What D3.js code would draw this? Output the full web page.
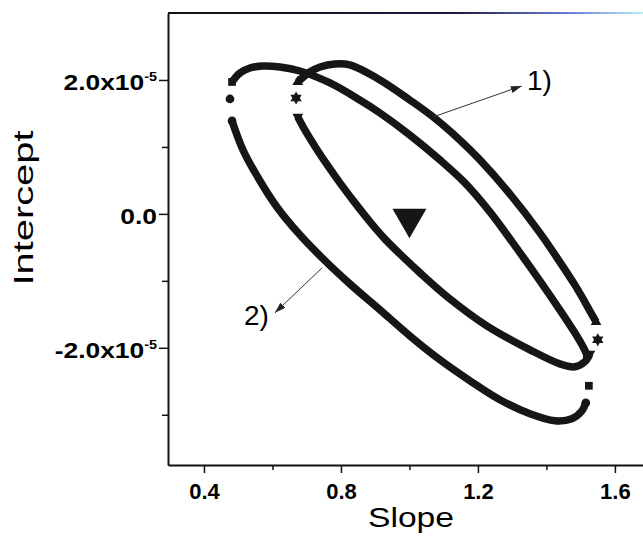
<!DOCTYPE html>
<html>
<head>
<meta charset="utf-8">
<script src="https://cdn.jsdelivr.net/npm/d3@7"></script>
<style>
body { margin: 0; background: #fff; }
svg { display: block; font-family: "Liberation Sans", Arial, sans-serif; }
</style>
</head>
<body>
<div id="chart"></div>
<script>
// [slope, intercept] pairs, intercept in units of 1e-5
var ellipse1Upper = [[0.674,1.970],[0.709,2.119],[0.739,2.194],[0.782,2.239],[0.826,2.224],[0.914,2.000],[1.001,1.701],[1.069,1.448],[1.147,1.104],[1.206,0.806],[1.293,0.299],[1.381,-0.284],[1.439,-0.716],[1.483,-1.060],[1.512,-1.313],[1.530,-1.478],[1.545,-1.612]];
var ellipse1Lower = [[0.674,1.448],[0.698,1.224],[0.727,0.985],[0.762,0.716],[0.797,0.463],[0.841,0.164],[0.885,-0.119],[0.928,-0.373],[0.972,-0.597],[1.031,-0.881],[1.118,-1.269],[1.226,-1.672],[1.352,-2.030],[1.439,-2.239],[1.483,-2.284],[1.512,-2.209],[1.527,-2.090]];
var ellipse1Ends = [[0.669,1.731],[1.550,-1.881]];

var ellipse2Upper = [[0.482,1.970],[0.505,2.104],[0.534,2.179],[0.572,2.209],[0.622,2.194],[0.680,2.134],[0.768,1.955],[0.855,1.701],[0.914,1.507],[1.001,1.179],[1.089,0.806],[1.162,0.463],[1.235,0.030],[1.302,-0.433],[1.381,-1.000],[1.439,-1.433],[1.483,-1.776],[1.507,-1.985],[1.518,-2.104]];
var ellipse2Lower = [[0.482,1.388],[0.514,0.955],[0.555,0.567],[0.613,0.104],[0.680,-0.313],[0.745,-0.657],[0.826,-1.045],[0.914,-1.433],[1.001,-1.821],[1.089,-2.179],[1.177,-2.493],[1.264,-2.776],[1.352,-2.985],[1.425,-3.090],[1.474,-3.060],[1.504,-2.940],[1.515,-2.821]];
var ellipse2Ends = [[0.476,1.716],[1.524,-2.567]];

var centerPoint = [1.0, -0.07];

var xMajor = [0.4, 0.8, 1.2, 1.6];
var xMinor = [0.6, 1.0, 1.4];
var yMajor = [-2, 0, 2];
var yMinor = [-3, -1, 1];

var arrow1 = [[1.069,1.448],[1.328,1.910]];
var arrow2 = [[0.745,-0.806],[0.607,-1.478]];
var label1 = [1.343, 1.851];
var label2 = [0.517, -1.657];

var width = 643, height = 538;
var ink = "#161616";

var svg = d3.select("#chart").append("svg")
	.attr("width", width)
	.attr("height", height);

var x = d3.scaleLinear().domain([0.295, 1.72]).range([168, 656]);
var y = d3.scaleLinear().domain([-3.75, 3.0]).range([465, 13]);

var defs = svg.append("defs");
defs.append("marker")
	.attr("id", "head")
	.attr("markerUnits", "userSpaceOnUse")
	.attr("markerWidth", 12).attr("markerHeight", 8)
	.attr("refX", 11).attr("refY", 3.5)
	.attr("orient", "auto")
	.append("path").attr("d", "M0,0L11,3.5L0,7z").attr("fill", "#222");

var grad = defs.append("linearGradient").attr("id", "topline")
	.attr("gradientUnits", "userSpaceOnUse")
	.attr("x1", 168).attr("x2", 643).attr("y1", 0).attr("y2", 0);
grad.append("stop").attr("offset", "0%").attr("stop-color", "#111");
grad.append("stop").attr("offset", "60%").attr("stop-color", "#1a1a40");
grad.append("stop").attr("offset", "85%").attr("stop-color", "#6f7fd8");
grad.append("stop").attr("offset", "100%").attr("stop-color", "#b8f0f4");

// frame top
svg.append("line")
	.attr("x1", 168).attr("x2", 643)
	.attr("y1", 13).attr("y2", 13)
	.attr("stroke", "url(#topline)").attr("stroke-width", 2);

// x axis
var gx = svg.append("g").attr("transform", "translate(0,465)");
gx.call(d3.axisBottom(x).tickValues(xMajor).tickFormat(d3.format(".1f"))
	.tickSize(8).tickSizeOuter(0).tickPadding(10));
gx.selectAll(".tick text").attr("font-size", 22).attr("font-weight", "bold")
	.attr("font-family", "Liberation Sans, Arial").attr("fill", "#000");
gx.append("g").call(d3.axisBottom(x).tickValues(xMinor).tickFormat("").tickSize(5).tickSizeOuter(0))
	.select(".domain").remove();

// y axis
var gy = svg.append("g").attr("transform", "translate(168,0)");
gy.call(d3.axisLeft(y).tickValues(yMajor).tickSize(9).tickSizeOuter(0));
gy.selectAll(".tick text").each(function(d) {
	var t = d3.select(this).text(null)
		.attr("font-size", 22).attr("font-weight", "bold")
		.attr("font-family", "Liberation Sans, Arial").attr("fill", "#000")
		.attr("x", -11 / 1.2).attr("dy", "0.42em")
		.attr("transform", "scale(1.2,1)");
	if (d === 0) {
		t.append("tspan").text("0.0");
	} else {
		t.append("tspan").text(d.toFixed(1) + "x10");
		t.append("tspan").attr("dy", -9).attr("font-size", 12).text("-5");
	}
});
gy.append("g").call(d3.axisLeft(y).tickValues(yMinor).tickFormat("").tickSize(6).tickSizeOuter(0))
	.select(".domain").remove();

svg.selectAll(".domain").attr("stroke", "#111").attr("stroke-width", 2);
svg.selectAll(".tick line").attr("stroke", "#111").attr("stroke-width", 1.5);

// axis titles
svg.append("text")
	.attr("x", 411).attr("y", 527)
	.attr("text-anchor", "middle")
	.attr("font-size", 28)
	.attr("textLength", 86).attr("lengthAdjust", "spacingAndGlyphs")
	.text("Slope");

svg.append("text")
	.attr("transform", "translate(33,208) rotate(-90)")
	.attr("text-anchor", "middle")
	.attr("font-size", 28)
	.attr("textLength", 155).attr("lengthAdjust", "spacingAndGlyphs")
	.text("Intercept");

// ellipse arcs
var line = d3.line()
	.x(function(d) { return x(d[0]); })
	.y(function(d) { return y(d[1]); })
	.curve(d3.curveCatmullRom.alpha(0.5));

var arcs = [
	{data: ellipse2Upper, type: d3.symbolSquare, size: 60, rot: 0},
	{data: ellipse2Lower, type: d3.symbolCircle, size: 60, rot: 0},
	{data: ellipse1Upper, type: d3.symbolTriangle, size: 50, rot: 0},
	{data: ellipse1Lower, type: d3.symbolTriangle, size: 50, rot: 180}
];

arcs.forEach(function(a) {
	svg.append("path")
		.attr("d", line(a.data))
		.attr("fill", "none")
		.attr("stroke", ink)
		.attr("stroke-width", 7.5);
	var ends = [a.data[0], a.data[a.data.length - 1]];
	svg.selectAll(null).data(ends).enter().append("path")
		.attr("d", d3.symbol().type(a.type).size(a.size))
		.attr("transform", function(d) {
			return "translate(" + x(d[0]) + "," + y(d[1]) + ") rotate(" + a.rot + ")";
		})
		.attr("fill", ink);
});

// six pointed star
var star6 = {
	draw: function(ctx, size) {
		var r = Math.sqrt(size) / 2;
		for (var k = 0; k < 2; k++) {
			var a0 = k ? Math.PI / 2 : -Math.PI / 2;
			ctx.moveTo(r * Math.cos(a0), r * Math.sin(a0));
			for (var j = 1; j < 3; j++) {
				var a = a0 + j * 2 * Math.PI / 3;
				ctx.lineTo(r * Math.cos(a), r * Math.sin(a));
			}
			ctx.closePath();
		}
	}
};

svg.selectAll(null).data(ellipse1Ends).enter().append("path")
	.attr("d", d3.symbol().type(star6).size(170))
	.attr("transform", function(d) { return "translate(" + x(d[0]) + "," + y(d[1]) + ")"; })
	.attr("fill", ink);

svg.selectAll(null).data(ellipse2Ends).enter().append("path")
	.attr("d", function(d, i) {
		return d3.symbol().type(i === 0 ? d3.symbolCircle : d3.symbolSquare).size(60)();
	})
	.attr("transform", function(d) { return "translate(" + x(d[0]) + "," + y(d[1]) + ")"; })
	.attr("fill", ink);

// big centre triangle
svg.append("path")
	.attr("d", d3.symbol().type(d3.symbolTriangle).size(500))
	.attr("transform", "translate(" + x(centerPoint[0]) + "," + y(centerPoint[1]) + ") rotate(180)")
	.attr("fill", ink);

// annotations
[arrow1, arrow2].forEach(function(a) {
	svg.append("line")
		.attr("x1", x(a[0][0])).attr("y1", y(a[0][1]))
		.attr("x2", x(a[1][0])).attr("y2", y(a[1][1]))
		.attr("stroke", "#333").attr("stroke-width", 1)
		.attr("marker-end", "url(#head)");
});

svg.append("text")
	.attr("x", x(label1[0])).attr("y", y(label1[1]))
	.attr("font-size", 28)
	.text("1)");

svg.append("text")
	.attr("x", x(label2[0])).attr("y", y(label2[1]))
	.attr("font-size", 28)
	.text("2)");
</script>
</body>
</html>
